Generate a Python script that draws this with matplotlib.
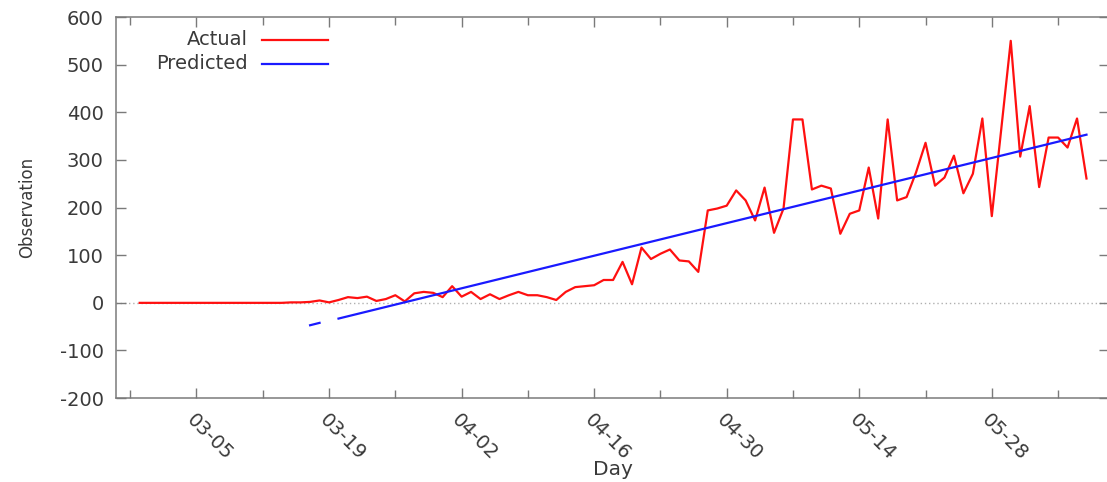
import numpy as np
import pandas as pd
import matplotlib
matplotlib.use('Agg')
import matplotlib.pyplot as plt
import matplotlib.dates as mdates

# --- data ---
start_day = '2020-02-28'
actual = [
    0, 0, 0, 0, 0, 0, 0, 0, 0, 0,
    0, 0, 0, 0, 0, 0, 1, 1,
    2, 5, 1, 6, 12, 10, 13, 4, 8, 16,
    3, 20, 23, 21, 12, 35, 13, 23, 8, 18,
    8, 16, 23, 16, 16, 12, 6, 23, 33, 35,
    37, 48, 48, 86, 39, 116, 92, 103, 112, 89,
    87, 65, 194, 198, 204, 236, 215, 173, 242, 147,
    198, 385, 385, 238, 246, 240, 145, 187, 194, 284,
    177, 385, 215, 222, 274, 336, 246, 263, 309, 230,
    271, 387, 182, 365, 550, 307, 413, 243, 347, 347,
    326, 387, 261,
]
pred_dates = ['2020-03-17', '2020-03-18', '2020-03-19', '2020-03-20', '2020-06-07']
pred_values = [-47, -42, np.nan, -33, 353]

y_ticks = [-200, -100, 0, 100, 200, 300, 400, 500, 600]
x_tick_days = ['2020-03-05', '2020-03-19', '2020-04-02', '2020-04-16',
               '2020-04-30', '2020-05-14', '2020-05-28']
x_minor_days = ['2020-02-27', '2020-03-12', '2020-03-26', '2020-04-09',
                '2020-04-23', '2020-05-07', '2020-05-21', '2020-06-04']

plt.rcParams['axes.unicode_minus'] = False

days = pd.date_range(start_day, periods=len(actual), freq='D')
pred_days = pd.to_datetime(pred_dates)

text_col = '#3a3a3a'
frame_col = '#7a7a7a'
red = '#ff1010'
blue = '#1a1aff'

fig = plt.figure(figsize=(11.07, 4.82), dpi=100)
ax = fig.add_axes([0.1048, 0.174, 0.8972, 0.7907])

# zero axis (dotted)
ax.axhline(0, color='#b0b0b0', linestyle=(0, (1, 2)), linewidth=1.0, zorder=1)

ax.plot(days, actual, color=red, linewidth=1.6, zorder=3)
ax.plot(pred_days, pred_values, color=blue, linewidth=1.6, zorder=4)

# axes ranges
x0 = mdates.date2num(pd.Timestamp(start_day))
ax.set_xlim(x0 - 2.5, x0 + 102.4)
ax.set_ylim(-200, 600)

ax.set_yticks(y_ticks)
ax.set_xticks(pd.to_datetime(x_tick_days))
ax.set_xticks(pd.to_datetime(x_minor_days), minor=True)
ax.xaxis.set_major_formatter(mdates.DateFormatter('%m-%d'))

ax.tick_params(which='both', direction='in', top=True, right=True,
               color=frame_col, labelcolor=text_col, labelsize=14)
ax.tick_params(which='major', length=7, width=1)
ax.tick_params(which='minor', length=6, width=1)
ax.tick_params(axis='y', pad=9)
ax.tick_params(axis='x', pad=9)
for lab in ax.get_xticklabels():
    lab.set_rotation(-45)
    lab.set_ha('left')
    lab.set_rotation_mode('anchor')

for s in ax.spines.values():
    s.set_color(frame_col)
    s.set_linewidth(1.1)

ax.set_xlabel('Day', fontsize=14.5, color=text_col, labelpad=-3)
ax.set_ylabel('Observation', fontsize=12, color=text_col, labelpad=17)

# gnuplot-style key: right-aligned text followed by the line sample
ax.text(0.133, 0.94, 'Actual', transform=ax.transAxes, ha='right', va='center',
        fontsize=14, color=text_col)
ax.text(0.133, 0.877, 'Predicted', transform=ax.transAxes, ha='right', va='center',
        fontsize=14, color=text_col)
ax.plot([0.147, 0.2135], [0.94, 0.94], transform=ax.transAxes, color=red, linewidth=1.6)
ax.plot([0.147, 0.2135], [0.877, 0.877], transform=ax.transAxes, color=blue, linewidth=1.6)

fig.savefig('out.png', dpi=100)
